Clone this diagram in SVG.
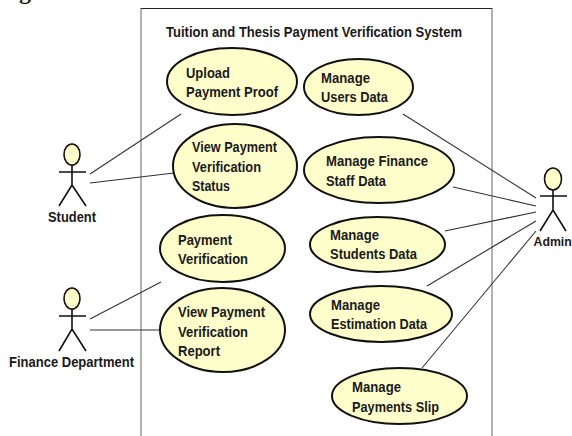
<svg xmlns="http://www.w3.org/2000/svg" width="572" height="436" viewBox="0 0 572 436">
<style>
text{font-family:"Liberation Sans",Arial,sans-serif;font-weight:700;font-size:15px;fill:#1a1a1a;}
.uc{fill:#ffffcc;stroke:#111;stroke-width:2;}
.act{fill:none;stroke:#111;stroke-width:1.600;}
.head{fill:#ffffcc;stroke:#111;stroke-width:1.600;}
.c{fill:none;stroke:#333;stroke-width:1.100;}
</style>
<rect width="572" height="436" fill="#fff"/>
<text x="19" y="-1" style="font-family:'Liberation Serif',serif;font-size:24px">g</text>
<g id="system">
<path d="M141 436V8.500H492V436" fill="none" stroke="#808080" stroke-width="1.200"/>
<path d="M141 8.500H492" fill="none" stroke="#222" stroke-width="1.200"/>
<text x="166" y="37" textLength="296" lengthAdjust="spacingAndGlyphs">Tuition and Thesis Payment Verification System</text>
</g>
<g id="connectors">
<line class="c" x1="90" y1="174" x2="181" y2="114"/>
<line class="c" x1="90" y1="183" x2="174" y2="173"/>
<line class="c" x1="90" y1="319" x2="161" y2="282"/>
<line class="c" x1="90" y1="330" x2="161" y2="330"/>
<line class="c" x1="403" y1="114" x2="536" y2="198"/>
<line class="c" x1="453" y1="187" x2="536" y2="206"/>
<line class="c" x1="445" y1="231" x2="536" y2="212"/>
<line class="c" x1="427" y1="286" x2="536" y2="221"/>
<line class="c" x1="422" y1="368" x2="536" y2="231"/>
</g>
<g id="student">
<ellipse class="head" cx="72" cy="154.500" rx="8" ry="10.500"/>
<path class="act" d="M72 165V185M59 172H86M59 206L72 185L86 206"/>
<text x="48" y="222" textLength="48" lengthAdjust="spacingAndGlyphs">Student</text>
</g>
<g id="finance-department">
<ellipse class="head" cx="72" cy="298.500" rx="8" ry="10.500"/>
<path class="act" d="M72 309V329M59 316H86M59 351L72 329L86 351"/>
<text x="9" y="367" textLength="125" lengthAdjust="spacingAndGlyphs">Finance Department</text>
</g>
<g id="admin">
<ellipse class="head" cx="553" cy="179" rx="8.500" ry="11"/>
<path class="act" d="M553 190V210M540 196H567M540 231L553 210L566 231"/>
<text x="533.500" y="246" style="font-size:12.300px">Admin</text>
</g>
<g id="upload-payment-proof">
<ellipse class="uc" cx="232" cy="81.500" rx="65" ry="33.500"/>
<text x="186" y="78" textLength="44" lengthAdjust="spacingAndGlyphs">Upload</text><text x="186" y="97" textLength="92" lengthAdjust="spacingAndGlyphs">Payment Proof</text>
</g>
<g id="view-status">
<ellipse class="uc" cx="235" cy="166" rx="62" ry="42"/>
<text x="192" y="152" textLength="85" lengthAdjust="spacingAndGlyphs">View Payment</text><text x="192" y="172" textLength="69" lengthAdjust="spacingAndGlyphs">Verification</text><text x="192" y="191" textLength="38" lengthAdjust="spacingAndGlyphs">Status</text>
</g>
<g id="payment-verification">
<ellipse class="uc" cx="222.500" cy="248.500" rx="62.500" ry="33.500"/>
<text x="178" y="245" textLength="54" lengthAdjust="spacingAndGlyphs">Payment</text><text x="178" y="264" textLength="70" lengthAdjust="spacingAndGlyphs">Verification</text>
</g>
<g id="view-report">
<ellipse class="uc" cx="222.500" cy="330" rx="62.500" ry="42"/>
<text x="178" y="317" textLength="87" lengthAdjust="spacingAndGlyphs">View Payment</text><text x="178" y="337" textLength="70" lengthAdjust="spacingAndGlyphs">Verification</text><text x="178" y="356" textLength="42" lengthAdjust="spacingAndGlyphs">Report</text>
</g>
<g id="manage-users">
<ellipse class="uc" cx="358.500" cy="87" rx="54.500" ry="28"/>
<text x="321" y="83" textLength="49" lengthAdjust="spacingAndGlyphs">Manage</text><text x="321" y="102" textLength="67" lengthAdjust="spacingAndGlyphs">Users Data</text>
</g>
<g id="manage-finance">
<ellipse class="uc" cx="379" cy="170" rx="75" ry="33"/>
<text x="326" y="166" textLength="102" lengthAdjust="spacingAndGlyphs">Manage Finance</text><text x="326" y="186" textLength="60" lengthAdjust="spacingAndGlyphs">Staff Data</text>
</g>
<g id="manage-students">
<ellipse class="uc" cx="377.500" cy="244.500" rx="67.500" ry="27.500"/>
<text x="330" y="240" textLength="49" lengthAdjust="spacingAndGlyphs">Manage</text><text x="330" y="259" textLength="87" lengthAdjust="spacingAndGlyphs">Students Data</text>
</g>
<g id="manage-estimation">
<ellipse class="uc" cx="381" cy="314" rx="71" ry="28"/>
<text x="331" y="310" textLength="49" lengthAdjust="spacingAndGlyphs">Manage</text><text x="331" y="329" textLength="96" lengthAdjust="spacingAndGlyphs">Estimation Data</text>
</g>
<g id="manage-payments">
<ellipse class="uc" cx="399.500" cy="396" rx="67.500" ry="28"/>
<text x="352" y="392" textLength="49" lengthAdjust="spacingAndGlyphs">Manage</text><text x="352" y="412" textLength="87" lengthAdjust="spacingAndGlyphs">Payments Slip</text>
</g>
</svg>
